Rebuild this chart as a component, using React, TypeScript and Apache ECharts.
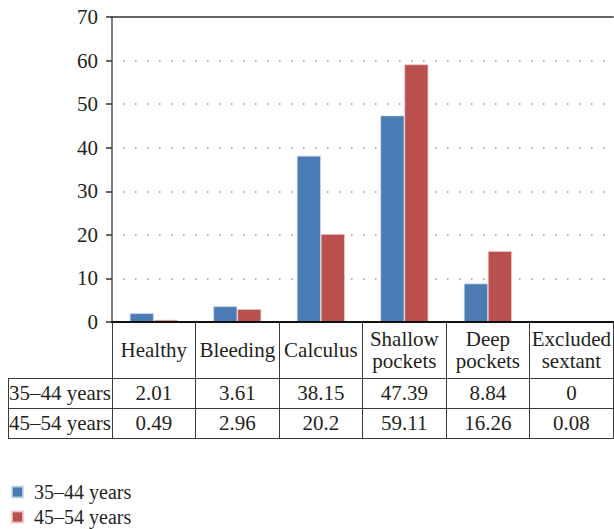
import React, { useEffect, useRef } from "react";
import * as echarts from "echarts";

const categories = ["Healthy", "Bleeding", "Calculus", "Shallow\npockets", "Deep\npockets", "Excluded\nsextant"];
const seriesNames = ["35–44 years", "45–54 years"];
const values3544 = [2.01, 3.61, 38.15, 47.39, 8.84, 0];
const values4554 = [0.49, 2.96, 20.2, 59.11, 16.26, 0.08];
const yTicks = { min: 0, max: 70, interval: 10 };

const FONT = "Liberation Serif";
const FS = 21;
const TXT = "#231f20";
const LINE = "#3a3a3a";

export default function App() {
  const ref = useRef<HTMLDivElement>(null);
  useEffect(() => {
    if (!ref.current) return;
    const chart = echarts.init(ref.current, undefined, { renderer: "svg" });
    const W = 614;
    const gridLeft = 112;
    const gridTop = 17;
    const axisY = 322;
    const rowLines = [378, 408, 438];
    const rowCenters = [393, 423];
    const legendTops = [482, 507];
    const valueRows = [values3544, values4554];

    const valueAxes = valueRows.map((row, i) => ({
      type: "category",
      gridIndex: 0,
      position: "bottom",
      offset: rowLines[i] - axisY,
      data: categories,
      axisLine: { show: false },
      axisTick: { show: false },
      axisLabel: {
        interval: 0,
        margin: 15,
        verticalAlign: "middle",
        fontFamily: FONT,
        fontSize: FS,
        color: TXT,
        formatter: (_v: string, idx: number) => String(row[idx]),
      },
    }));

    const graphics: any[] = [
      ...rowLines.map((y) => ({
        type: "line",
        z: 100,
        shape: { x1: 8, y1: y + 0.5, x2: W, y2: y + 0.5 },
        style: { stroke: LINE, lineWidth: 1 },
      })),
      {
        type: "line",
        z: 100,
        shape: { x1: 8.5, y1: rowLines[0], x2: 8.5, y2: rowLines[2] },
        style: { stroke: LINE, lineWidth: 1 },
      },
      ...seriesNames.map((name, i) => ({
        type: "text",
        z: 100,
        x: 60,
        y: rowCenters[i],
        style: {
          text: name,
          fontFamily: FONT,
          fontSize: FS,
          fill: TXT,
          align: "center",
          verticalAlign: "middle",
        },
      })),
    ];

    chart.setOption({
      animation: false,
      backgroundColor: "#ffffff",
      grid: { left: gridLeft, right: 0, top: gridTop, bottom: 529 - axisY, containLabel: false },
      legend: seriesNames.map((name, i) => ({
        orient: "vertical",
        left: 11,
        top: legendTops[i],
        padding: 0,
        itemWidth: 11,
        itemHeight: 11,
        icon: "rect",
        data: [name],
        textStyle: { fontFamily: FONT, fontSize: 20, color: TXT, padding: [0, 0, 0, 6] },
      })),
      xAxis: [
        {
          type: "category",
          gridIndex: 0,
          position: "bottom",
          z: 5,
          data: categories,
          axisLine: { show: true, lineStyle: { color: "#111", width: 2 } },
          axisTick: {
            show: true,
            interval: 0,
            alignWithLabel: false,
            inside: false,
            length: rowLines[2] - axisY,
            lineStyle: { color: LINE, width: 1 },
          },
          axisLabel: {
            interval: 0,
            margin: 28,
            verticalAlign: "middle",
            lineHeight: 22,
            fontFamily: FONT,
            fontSize: FS,
            color: TXT,
          },
          splitLine: { show: false },
        },
        ...valueAxes,
        {
          type: "category",
          gridIndex: 0,
          position: "top",
          z: 5,
          data: categories,
          axisLine: { show: true, lineStyle: { color: "#333", width: 1.5 } },
          axisTick: { show: false },
          axisLabel: { show: false },
          splitLine: { show: false },
        },
      ],
      yAxis: {
        type: "value",
        min: yTicks.min,
        max: yTicks.max,
        interval: yTicks.interval,
        axisLine: { show: true, lineStyle: { color: "#555", width: 1.5 } },
        axisTick: { show: true, length: 6, lineStyle: { color: "#333", width: 1.5 } },
        axisLabel: { margin: 14, fontFamily: FONT, fontSize: FS, color: TXT },
        splitLine: {
          show: true,
          showMinLine: false,
          showMaxLine: false,
          lineStyle: { color: "#999", width: 1.5, type: [1.5, 10.5], dashOffset: -11 },
        },
      },
      series: [
        {
          name: seriesNames[0],
          type: "bar",
          xAxisIndex: 0,
          data: values3544,
          barWidth: 24,
          barGap: "0%",
          itemStyle: { color: "#4a7bb5", borderColor: "rgba(200,215,235,0.8)", borderWidth: 0.8 },
        },
        {
          name: seriesNames[1],
          type: "bar",
          xAxisIndex: 0,
          data: values4554,
          barWidth: 24,
          barGap: "0%",
          itemStyle: { color: "#b9504e", borderColor: "rgba(240,200,200,0.8)", borderWidth: 0.8 },
        },
      ],
      graphic: graphics,
    });
    return () => chart.dispose();
  }, []);
  return (
    <div
      ref={ref}
      style={{ position: "absolute", left: 0, top: 0, width: 614, height: 529 }}
    />
  );
}
